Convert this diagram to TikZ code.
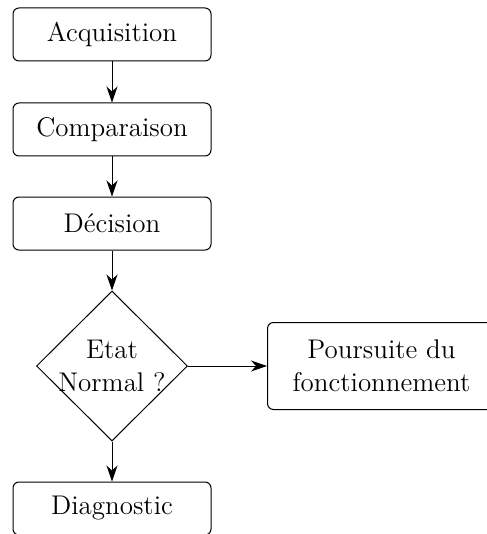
\documentclass[tikz,border=0pt]{standalone}
\usetikzlibrary{positioning,shapes.geometric,arrows.meta}

\tikzset{
  boite/.style={draw, rounded corners=3pt, line width=0.5pt, minimum width=99pt, minimum height=26.5pt},
  losange/.style={draw, diamond, line width=0.5pt, align=center, inner sep=-1.5pt, minimum width=75.5pt, minimum height=75pt},
  fleche/.style={line width=0.5pt, -{Stealth[length=8pt,width=5.5pt,inset=2.5pt]}}
}

\begin{document}
\begin{tikzpicture}[font=\fontsize{13.5}{16.5}\selectfont]
\useasboundingbox (0,0) rectangle (243pt,-267pt);

\node[boite] (acq) at (56pt,-17.25pt) {Acquisition};
\node[boite, below=20.5pt of acq] (comp) {Comparaison};
\node[boite, below=20pt of comp] (dec) {D\'ecision};
\node[losange, below=20pt of dec] (etat) {Etat\\Normal ?};
\node[boite, below=20pt of etat] (diag) {Diagnostic};

%box on the right, cut by the page edge
\node[boite, align=center, minimum width=114pt, minimum height=43.5pt, right=39.5pt of etat.east, anchor=west] (suite) {Poursuite du\\fonctionnement};

\draw[fleche] (acq) -- (comp);
\draw[fleche] (comp) -- (dec);
\draw[fleche] (dec) -- (etat);
\draw[fleche] (etat) -- (diag);
\draw[fleche] (etat.east) -- (suite.west);
\end{tikzpicture}
\end{document}
